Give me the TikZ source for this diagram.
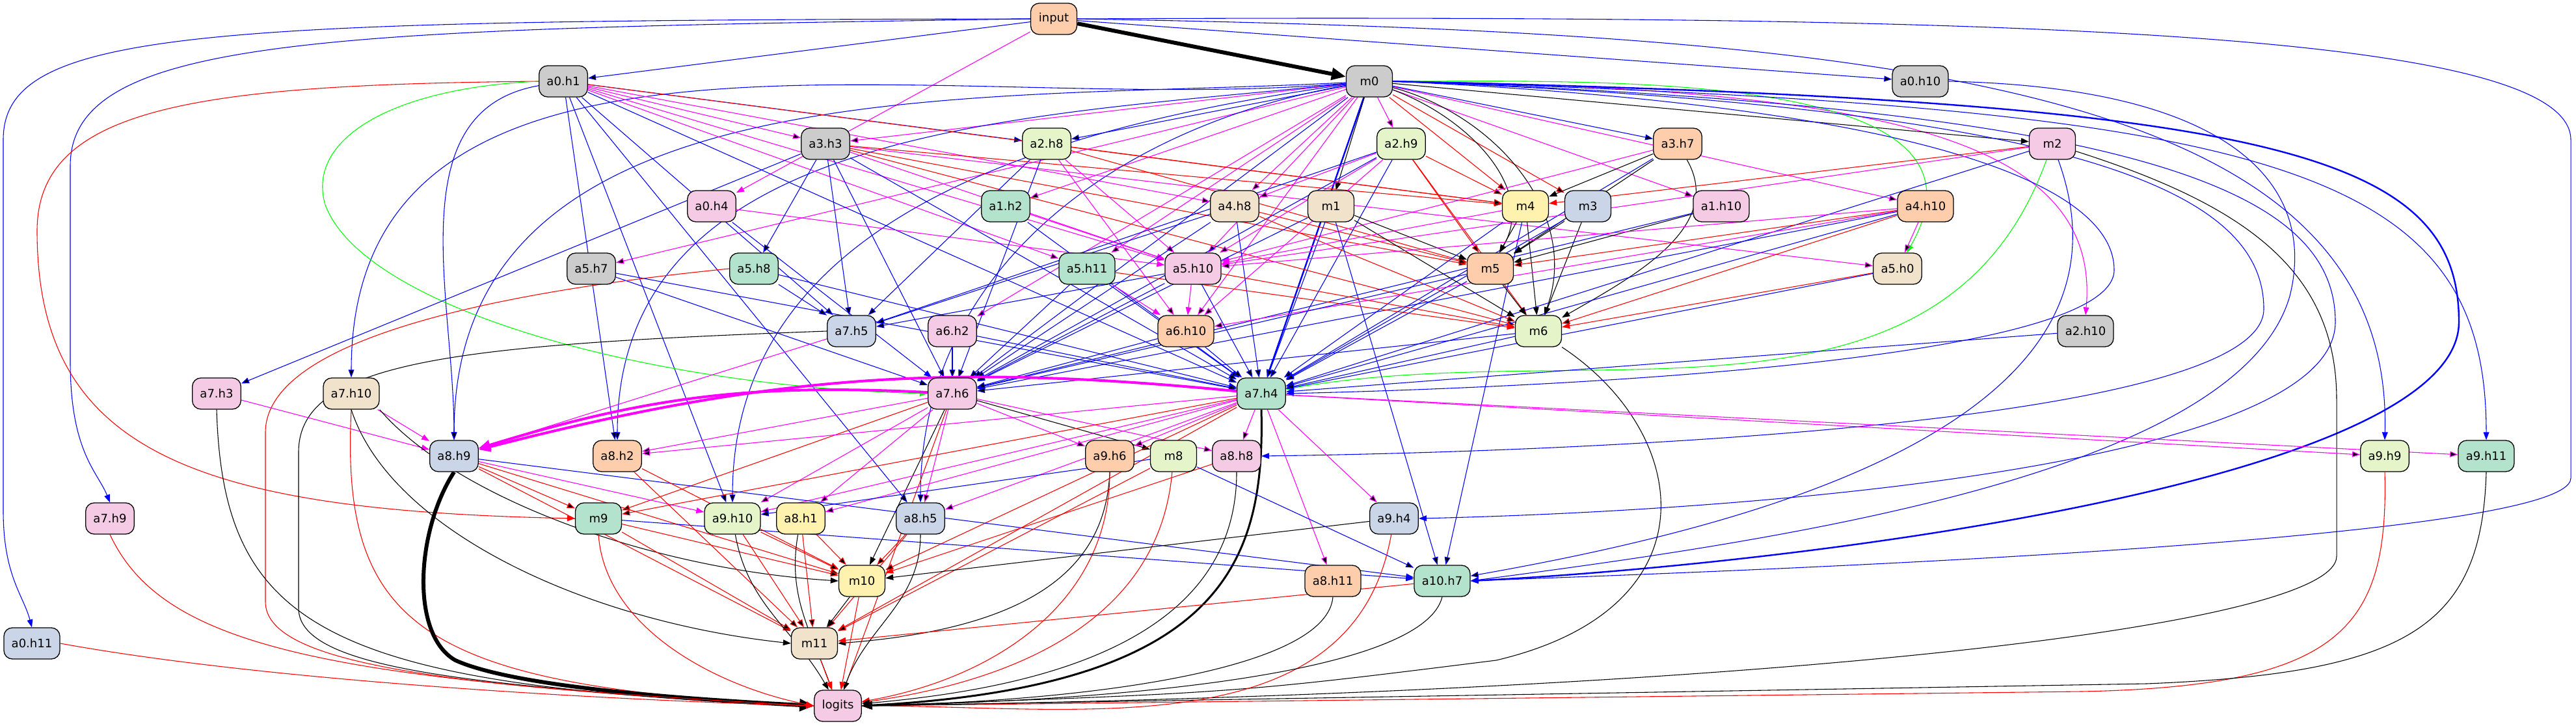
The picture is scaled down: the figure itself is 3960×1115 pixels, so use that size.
\documentclass[tikz,border=0pt]{standalone}
\usepackage{fontspec}
\setmainfont{DejaVu Sans}
\usetikzlibrary{arrows.meta}
\pgfdeclarelayer{edges}
\pgfsetlayers{edges,main}
\definecolor{cgray}{HTML}{CCCCCC}
\definecolor{cpeach}{HTML}{FDCDAC}
\definecolor{clime}{HTML}{E6F5C9}
\definecolor{cmint}{HTML}{B3E2CD}
\definecolor{cpink}{HTML}{F4CAE4}
\definecolor{cbeige}{HTML}{F1E2CC}
\definecolor{cyellow}{HTML}{FFF2AE}
\definecolor{cslate}{HTML}{CBD5E8}
\definecolor{cmag}{RGB}{255,0,255}
\definecolor{cgreen}{RGB}{0,255,0}
\definecolor{cblue}{RGB}{0,0,255}
\definecolor{cred}{RGB}{255,0,0}
\begin{document}
\begin{tikzpicture}[x=0.25pt,y=0.25pt,
main node/.style={draw=black,line width=0.33pt,rounded corners=3.25pt,minimum width=17.75pt,minimum height=12pt,inner xsep=2.94pt,inner ysep=0pt,font=\fontsize{4.5}{5.4}\selectfont},
blue line/.style={draw=cblue,line width=0.27pt,-{Triangle[length=3pt,width=2.2pt]}},
red line/.style={draw=cred,line width=0.27pt,-{Triangle[length=3pt,width=2.2pt]}},
pink line/.style={draw=cmag,line width=0.27pt,-{Triangle[length=3pt,width=2.2pt]}},
green line/.style={draw=cgreen,line width=0.27pt,-{Triangle[length=3pt,width=2.2pt]}},
black line/.style={draw=black,line width=0.27pt,-{Triangle[length=3pt,width=2.2pt]}},
heavy/.style={line width=1.5pt,-{Triangle[length=5.5pt,width=4.5pt]}}]
\useasboundingbox (0,0) rectangle (3960,1115);
\node[main node,fill=cpeach] (input) at (1620,1086) {input};
\node[main node,fill=cgray] (a0h1) at (866,990) {a0.h1};
\node[main node,fill=cgray] (m0) at (2105,990) {m0};
\node[main node,fill=cgray] (a0h10) at (2952,990) {a0.h10};
\node[main node,fill=cgray] (a3h3) at (1269,894) {a3.h3};
\node[main node,fill=clime] (a2h8) at (1609,894) {a2.h8};
\node[main node,fill=clime] (a2h9) at (2154,894) {a2.h9};
\node[main node,fill=cpeach] (a3h7) at (2579,894) {a3.h7};
\node[main node,fill=cpink] (m2) at (3155,894) {m2};
\node[main node,fill=cpink] (a0h4) at (1094,798) {a0.h4};
\node[main node,fill=cmint] (a1h2) at (1546,798) {a1.h2};
\node[main node,fill=cbeige] (a4h8) at (1898,798) {a4.h8};
\node[main node,fill=cbeige] (m1) at (2046,798) {m1};
\node[main node,fill=cyellow] (m4) at (2345,798) {m4};
\node[main node,fill=cslate] (m3) at (2441,798) {m3};
\node[main node,fill=cpink] (a1h10) at (2646,798) {a1.h10};
\node[main node,fill=cpeach] (a4h10) at (2960,798) {a4.h10};
\node[main node,fill=cgray] (a5h7) at (909,702) {a5.h7};
\node[main node,fill=cmint] (a5h8) at (1159,702) {a5.h8};
\node[main node,fill=cmint] (a5h11) at (1671,702) {a5.h11};
\node[main node,fill=cpink] (a5h10) at (1834,702) {a5.h10};
\node[main node,fill=cpeach] (m5) at (2291,702) {m5};
\node[main node,fill=cbeige] (a5h0) at (2917,702) {a5.h0};
\node[main node,fill=cslate] (a7h5) at (1309,606) {a7.h5};
\node[main node,fill=cpink] (a6h2) at (1464,606) {a6.h2};
\node[main node,fill=cpeach] (a6h10) at (1823,606) {a6.h10};
\node[main node,fill=clime] (m6) at (2365,606) {m6};
\node[main node,fill=cgray] (a2h10) at (3206,606) {a2.h10};
\node[main node,fill=cpink] (a7h3) at (333,510) {a7.h3};
\node[main node,fill=cbeige] (a7h10) at (540,510) {a7.h10};
\node[main node,fill=cpink] (a7h6) at (1464,510) {a7.h6};
\node[main node,fill=cmint] (a7h4) at (1939,510) {a7.h4};
\node[main node,fill=cslate] (a8h9) at (698,414) {a8.h9};
\node[main node,fill=cpeach] (a8h2) at (949,414) {a8.h2};
\node[main node,fill=cpeach] (a9h6) at (1706,414) {a9.h6};
\node[main node,fill=clime] (m8) at (1804,414) {m8};
\node[main node,fill=cpink] (a8h8) at (1901,414) {a8.h8};
\node[main node,fill=clime] (a9h9) at (3666,414) {a9.h9};
\node[main node,fill=cmint] (a9h11) at (3822,414) {a9.h11};
\node[main node,fill=cpink] (a7h9) at (169,318) {a7.h9};
\node[main node,fill=cmint] (m9) at (920,318) {m9};
\node[main node,fill=clime] (a9h10) at (1126,318) {a9.h10};
\node[main node,fill=cyellow] (a8h1) at (1231,318) {a8.h1};
\node[main node,fill=cslate] (a8h5) at (1415,318) {a8.h5};
\node[main node,fill=cslate] (a9h4) at (2143,318) {a9.h4};
\node[main node,fill=cyellow] (m10) at (1325,222) {m10};
\node[main node,fill=cpeach] (a8h11) at (2049,222) {a8.h11};
\node[main node,fill=cmint] (a10h7) at (2217,222) {a10.h7};
\node[main node,fill=cslate] (a0h11) at (49,126) {a0.h11};
\node[main node,fill=cbeige] (m11) at (1252,126) {m11};
\node[main node,fill=cpink] (logits) at (1288,30) {logits};

\begin{pgfonlayer}{edges}
% input
\draw[black line,heavy] (input) -- (m0);
\draw[blue line] (input) edge (a0h1) edge (a0h10);
\draw[pink line] (input) -- (a0h4);
\draw[blue line] (input.west) .. controls (300,1084) and (5,1070) .. (5,900) -- (5,330) .. controls (5,230) and (36,200) .. (a0h11.north);
\draw[blue line] (input.west) .. controls (500,1070) and (108,1060) .. (108,860) -- (108,560) .. controls (108,420) and (150,390) .. (a7h9.north);
\draw[blue line] (input.east) .. controls (3000,1092) and (3952,1075) .. (3952,900) -- (3952,380) .. controls (3952,280) and (2600,235) .. (a10h7.east);
\draw[blue line] (input.east) .. controls (2900,1065) and (3680,990) .. (a9h9.north);
% m0
\draw[pink line] (m0) edge (a3h3) edge (a2h9) edge (a1h2) edge (a4h8) edge (a1h10)
  edge (a4h10) edge (a5h7) edge (a5h11) edge (a5h10) edge (a6h2) edge (a6h10);
\draw[pink line] (m0.east) .. controls (2900,980) and (3230,900) .. (a2h10.north);
\draw[blue line] (m0) edge (a2h8) edge (a3h7) edge (a7h6) edge[line width=0.6pt] (a7h4);
\draw[blue line] (m0) edge[out=185,in=90] (a7h10) edge[out=183,in=90] (a8h9)
  edge[out=186,in=90] (a8h2) edge[out=188,in=90] (a9h10) edge[out=190,in=90] (a8h5);
\draw[red line] (m0) edge (m4) edge (m3);
\draw[black line] (m0) edge (m2) edge (m1) edge[out=-20,in=60] (m5) edge[out=-15,in=70] (m6);
\draw[green line] (m0) to[out=0,in=60] (a5h0);
\draw[blue line,line width=0.6pt] (m0.east) .. controls (3500,960) and (3780,880) .. (3780,620) .. controls (3780,380) and (2800,250) .. (a10h7.east);
\draw[blue line] (m0.east) .. controls (3500,950) and (3822,860) .. (a9h11.north);
\draw[blue line] (m0.east) .. controls (3300,950) and (3590,820) .. (3590,620) .. controls (3590,400) and (2700,330) .. (a9h4.east);
\draw[blue line] (m0.east) .. controls (3200,950) and (3480,820) .. (3480,640) .. controls (3480,460) and (2400,420) .. (a8h8.east);
\draw[blue line] (m0.east) .. controls (3000,950) and (3250,820) .. (3250,700) .. controls (3250,560) and (2400,520) .. (a7h4.east);
% a0.h1
\draw[pink line] (a0h1) edge (a3h3) edge (a4h8) edge (a5h11) edge (a5h10);
\draw[blue line] (a0h1) edge (a2h8) edge (a7h5) edge (a7h4) edge (a8h5) edge (a9h10) edge (a8h2)
  edge[out=190,in=90] (a8h9);
\draw[red line] (a0h1) -- (m4);
\draw[red line] (a0h1.west) .. controls (300,985) and (57,950) .. (57,760) .. controls (57,420) and (300,330) .. (m9.west);
\draw[green line] (a0h1.west) .. controls (600,980) and (470,900) .. (500,800) .. controls (560,640) and (1000,520) .. (a7h6.west);
\draw[blue line] (a0h10.east) .. controls (3450,980) and (3560,820) .. (3520,660) .. controls (3440,380) and (2700,280) .. (a10h7.east);
% second rank
\draw[pink line] (a0h4) -- (a5h10);
\draw[blue line] (a0h4) -- (a7h6);
\draw[blue line] (a3h3) edge (a5h8) edge (a7h5) edge (a7h3) edge (a7h4) edge (a7h6);
\draw[red line] (a3h3) edge (m4) edge (m5) edge (m6);
\draw[pink line] (a3h3) edge (a5h0) edge (a5h10);
\draw[red line] (a2h8) edge (m4) edge (m5);
\draw[blue line] (a2h8) edge (a7h5) edge (a7h6);
\draw[pink line] (a2h8) edge (a5h10) edge (a6h10);
\draw[pink line] (a2h9) edge (a4h8) edge (a5h10) edge (a6h10);
\draw[red line] (a2h9) edge (m4) edge (m5) edge (m6);
\draw[blue line] (a2h9) edge (a7h5) edge (a7h6) edge (a7h4);
\draw[black line] (a3h7) edge (m4) edge (m5) edge[out=-60,in=30] (m6);
\draw[pink line] (a3h7) -- (a5h10);
\draw[blue line] (a3h7) -- (a7h4);
\draw[red line] (m2) -- (m4);
\draw[pink line] (m2) -- (a5h10);
\draw[green line] (m2) to[out=-110,in=10] (a7h4);
\draw[blue line] (m2) edge (a7h4) edge[out=-70,in=10] (a10h7);
\draw[black line] (m2) .. controls (3450,800) and (3592,700) .. (3592,500) -- (3592,260) .. controls (3592,150) and (2700,50) .. (logits.east);
% third rank
\draw[pink line] (a1h2) -- (a5h10);
\draw[blue line] (a1h2) -- (a7h4);
\draw[blue line] (a4h8) edge (a7h5) edge (a7h6) edge (a7h4);
\draw[red line] (a4h8) edge (m5) edge (m6);
\draw[black line] (m1) edge (m5) edge (m6);
\draw[blue line] (m1) edge (a7h4) edge (a7h6) edge (a10h7);
\draw[black line] (m4) edge (m5) edge (m6);
\draw[pink line] (m4) -- (a5h10);
\draw[blue line] (m4) edge (a7h4) edge (a10h7);
\draw[black line] (m3) edge (m5) edge (m6);
\draw[blue line] (m3) -- (a7h4);
\draw[black line] (a1h10) -- (m5);
\draw[blue line] (a1h10) -- (a7h6);
\draw[pink line] (a4h10) edge (a5h10) edge (a6h10) edge (a5h0);
\draw[red line] (a4h10) edge (m5) edge (m6);
\draw[blue line] (a4h10) edge (a7h4) edge (a7h6);
% fourth and fifth rank
\draw[blue line] (a5h7) edge (a7h6) edge (a7h4);
\draw[blue line] (a5h8) edge (a7h5) edge (a7h4);
\draw[red line] (a5h8.west) .. controls (700,660) and (408,580) .. (408,450) -- (408,190) .. controls (408,100) and (650,60) .. (logits.west);
\draw[pink line] (a5h11) -- (a6h10);
\draw[blue line] (a5h11) edge (a7h6) edge (a7h4);
\draw[red line] (a5h11) -- (m6);
\draw[pink line] (a5h10) -- (a6h10);
\draw[blue line] (a5h10) edge (a7h5) edge (a7h6) edge (a7h4);
\draw[red line] (a5h10) -- (m6);
\draw[black line] (m5) -- (m6);
\draw[blue line] (m5) edge (a7h6) edge (a7h4);
\draw[red line] (a5h0) -- (m6);
\draw[blue line] (a5h0) -- (a7h4);
\draw[pink line] (a7h5) -- (a8h9);
\draw[black line] (a7h5.west) .. controls (700,585) and (459,560) .. (459,420) -- (459,180) .. controls (459,90) and (700,60) .. (logits.west);
\draw[blue line] (a6h2) edge (a7h6) edge (a7h4);
\draw[blue line] (a6h10) edge (a7h6) edge (a7h4);
\draw[blue line] (m6) edge (a7h6) edge (a7h4);
\draw[black line] (m6.south east) .. controls (2600,450) and (2640,180) .. (2300,100) .. controls (1900,50) .. (logits.east);
\draw[blue line] (a2h10) -- (a7h4);
% sixth rank
\draw[pink line] (a7h3) -- (a8h9);
\draw[black line] (a7h3.south) .. controls (343,150) and (500,60) .. (logits.west);
\draw[pink line] (a7h10) -- (a8h9);
\draw[red line] (a7h10.south) .. controls (523,150) and (650,60) .. (logits.west);
\draw[black line] (a7h10.south) .. controls (600,300) and (900,160) .. (m11.west);
\draw[black line] (a7h10.south east) .. controls (700,350) and (1000,240) .. (m10.west);
\draw[pink line,line width=1pt,-{Triangle[length=4.5pt,width=3.75pt]}] (a7h6) to[bend right=10] (a8h9);
\draw[pink line] (a7h6) edge (a8h2) edge (a9h6) edge (a8h8) edge (a9h10) edge (a8h1) edge (a8h5);
\draw[black line] (a7h6) edge (m8) edge (m10);
\draw[red line] (a7h6) edge (m9) edge (logits);
\draw[pink line,line width=1pt,-{Triangle[length=4.5pt,width=3.75pt]}] (a7h4) to[bend right=10] (a8h9);
\draw[pink line] (a7h4) edge (a8h2) edge (a8h8) edge (a9h9) edge (a9h11) edge (a9h10) edge (a8h1)
  edge (a8h5) edge (a9h4) edge (a8h11) edge (a9h6);
\draw[red line] (a7h4) edge (m9) edge (m10) edge (m11);
\draw[black line,line width=0.75pt,-{Triangle[length=4pt,width=3.25pt]}] (a7h4.south) .. controls (1945,250) and (1880,60) .. (logits.east);
% seventh rank
\draw[black line,heavy] (a8h9.south) .. controls (640,300) and (630,140) .. (700,100) .. controls (800,55) and (1100,38) .. (logits.west);
\draw[red line] (a8h9) edge (m9) edge (m10) edge (m11);
\draw[pink line] (a8h9) -- (a9h10);
\draw[blue line] (a8h9) -- (a10h7);
\draw[red line] (a8h2) edge (m10) edge (m11);
\draw[black line] (a9h6.south) .. controls (1700,250) and (1600,150) .. (m11.east);
\draw[red line] (a9h6) to[out=-90,in=10] (logits);
\draw[red line] (m8) edge (m11) edge[out=-95,in=8] (logits);
\draw[blue line] (m8) edge (a10h7) edge (a9h10);
\draw[red line] (a8h8) -- (m10);
\draw[black line] (a8h8) to[out=-90,in=5] (logits);
\draw[red line] (a9h9.south) .. controls (3672,150) and (3600,60) .. (3200,52) -- (logits.east);
\draw[black line] (a9h11.south) .. controls (3815,150) and (3700,80) .. (3300,64) -- (logits.east);
% eighth rank and below
\draw[red line] (a7h9.south) .. controls (250,120) and (500,70) .. (logits.west);
\draw[red line] (m9) edge (m10) edge (m11);
\draw[red line] (m9.south) .. controls (930,150) and (1100,60) .. (logits.west);
\draw[blue line] (m9) -- (a10h7);
\draw[red line] (a9h10) edge (m10) edge (m11);
\draw[black line] (a9h10) to[out=-80,in=120] (logits);
\draw[red line] (a8h1) edge (m10) edge (m11);
\draw[black line] (a8h1) to[out=-100,in=110] (logits);
\draw[red line] (a8h5) edge (m10) edge (m11);
\draw[black line] (a8h5) to[out=-90,in=70] (logits);
\draw[black line] (a9h4) -- (m10);
\draw[red line] (a9h4) to[out=-100,in=0] (logits);
\draw[red line] (a0h11.east) .. controls (400,70) and (900,40) .. (logits.west);
\draw[black line] (m10) -- (m11);
\draw[red line] (m10) -- (logits);
\draw[red line] (a10h7) -- (m11);
\draw[black line] (a10h7.south) .. controls (2190,90) and (1800,40) .. (logits.east);
\draw[black line] (a8h11.south) .. controls (2040,90) and (1700,38) .. (logits.east);
\draw[red line] (m11) -- (logits);
\end{pgfonlayer}
\end{tikzpicture}
\end{document}
